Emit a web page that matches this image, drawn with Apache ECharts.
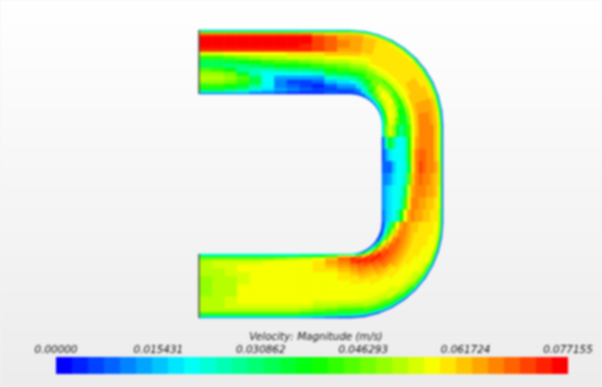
<!DOCTYPE html>
<html>
<head>
<meta charset="utf-8">
<title>Velocity magnitude</title>
<script src="https://cdn.jsdelivr.net/npm/echarts@6/dist/echarts.min.js"></script>
<style>
  html, body { margin: 0; padding: 0; background: #f4f4f4; }
  #main { width: 602px; height: 387px; filter: blur(0.8px); }
</style>
</head>
<body>
<div id="main"></div>
<script>
  // colour band (0-31 on the legend) per cell, one row per station, outer wall -> inner wall
  var topRows = [
    [6,12,19,28,31,31,31,30,22,17,13,13,18,20,21,20,17,14,10,4],
    [6,12,19,28,31,31,31,30,22,17,13,13,17,20,21,20,17,14,10,4],
    [6,12,19,28,31,31,31,30,23,18,14,12,15,19,20,19,16,13,9,4],
    [6,12,19,28,31,31,31,30,23,19,15,12,11,14,18,17,14,12,8,4],
    [6,12,19,28,31,31,31,30,23,20,16,13,10,10,13,14,11,9,6,3],
    [6,12,19,28,31,31,31,30,23,21,17,14,10,8,8,8,8,7,5,3],
    [6,12,19,28,31,31,31,30,23,21,18,15,11,8,5,4,4,5,4,2],
    [6,12,19,28,31,31,31,30,24,22,18,15,12,8,5,2,3,4,3,1],
    [6,12,20,28,31,31,30,30,24,22,19,16,12,8,5,2,2,3,2,1],
    [6,12,20,26,29,29,29,29,24,22,20,17,13,9,5,3,1,2,2,1],
    [6,12,20,25,28,28,28,28,25,23,21,18,16,13,9,6,3,2,3,2],
    [6,13,20,25,26,27,27,26,25,23,21,19,17,14,10,7,5,3,2,2]
  ];
  var arcOneRows = [
    [6,13,21,25,26,26,26,26,25,23,22,20,18,15,11,8,5,3,2,2],
    [5,13,21,24,25,25,25,25,24,23,22,20,18,16,13,10,7,4,3,2],
    [5,12,20,24,24,24,24,24,24,24,23,21,19,18,16,13,10,7,4,2],
    [4,11,19,23,24,24,24,24,24,24,23,22,19,19,19,17,14,10,6,3],
    [4,10,18,23,24,24,24,24,24,24,23,22,18,20,22,21,18,12,7,3],
    [3,10,18,22,24,24,24,24,24,24,23,22,18,20,23,23,20,13,8,3],
    [3,9,17,22,24,24,25,25,25,24,23,22,17,19,23,23,21,14,9,4],
    [3,9,17,22,24,25,25,25,25,25,23,21,16,18,22,23,22,15,10,5],
    [3,8,16,22,25,26,26,26,26,25,23,20,15,15,21,23,23,16,11,6],
    [2,8,16,23,25,26,27,27,27,25,23,19,14,15,18,22,23,17,12,7]
  ];
  var sideRows = [
    [2,9,17,23,25,27,27,27,27,25,23,17,14,11,14,20,22,19,12,7],
    [2,9,17,23,25,27,27,27,27,26,23,16,9,8,8,11,15,10,5,2],
    [2,9,17,23,25,27,27,28,28,27,24,16,9,8,8,8,7,5,3,2],
    [2,10,18,24,26,27,27,28,29,27,24,14,9,8,8,6,3,3,3,3],
    [2,10,18,24,25,26,27,27,28,27,25,18,10,8,8,7,5,4,4,4],
    [2,10,18,23,25,26,26,27,27,27,26,22,13,9,8,8,7,6,5,4],
    [2,10,18,23,24,25,25,26,26,27,27,24,17,10,8,8,7,6,5,4],
    [2,9,17,22,24,24,25,25,26,26,27,26,23,15,10,8,7,6,4,3]
  ];
  var arcTwoRows = [
    [2,9,17,22,23,24,24,24,24,25,25,26,27,26,23,17,11,7,3,2],
    [2,9,16,22,23,23,24,24,24,24,25,26,27,27,25,21,14,8,3,2],
    [2,9,15,21,23,23,23,24,24,24,25,26,27,28,27,24,18,9,3,1],
    [2,8,14,19,22,23,23,23,24,24,25,26,27,28,28,26,22,12,4,1],
    [2,8,13,18,21,22,23,23,23,24,25,26,27,28,29,28,25,15,6,2],
    [2,7,12,16,20,22,23,23,23,24,24,25,27,28,29,30,27,18,8,2],
    [2,6,11,15,19,22,22,23,23,23,24,25,26,27,28,30,29,21,11,3],
    [2,6,11,14,18,21,22,23,23,23,24,24,25,26,27,29,30,25,14,4],
    [1,5,10,14,18,21,22,23,23,23,23,24,25,26,27,28,30,28,18,6],
    [1,5,10,13,17,20,22,23,23,23,23,24,24,25,26,27,29,30,22,8]
  ];
  var bottomRows = [
    [1,5,10,13,17,20,22,23,23,23,23,23,24,24,25,26,27,28,24,10],
    [2,6,11,14,18,21,22,23,23,23,23,23,23,23,24,25,26,25,18,10],
    [3,7,11,15,19,21,22,23,23,23,23,23,23,23,24,24,24,23,15,9],
    [4,8,12,16,20,22,23,23,23,23,23,23,23,23,23,23,23,22,14,9],
    [5,9,13,17,21,22,23,23,23,23,23,23,23,23,23,23,23,21,13,8],
    [5,9,13,17,21,22,23,23,23,23,23,23,23,23,23,23,23,20,13,8],
    [5,9,13,17,21,22,23,23,23,23,23,23,23,23,23,23,23,19,13,8],
    [5,9,13,17,21,22,23,23,23,23,23,23,23,23,23,23,22,19,13,8],
    [5,9,13,17,21,22,23,23,23,23,23,22,22,22,23,23,22,19,13,8],
    [5,9,13,17,21,22,22,22,21,21,21,21,21,22,22,22,22,19,13,8],
    [5,9,13,17,21,21,21,21,21,21,21,21,21,21,21,22,22,19,13,8],
    [5,9,13,17,21,21,21,21,20,20,20,20,20,21,21,21,21,19,13,8]
  ];
  var tickLabels = ['0.00000', '0.015431', '0.030862', '0.046293', '0.061724', '0.077155'];
  var bandColors = ['#0000ff', '#00ffff', '#00ff00', '#ffff00', '#ff0000'];
  var legendName = 'Velocity: Magnitude (m/s)';

  var maxVelocity = 0.077155;
  var tickStep = 0.015431;
  var bandCount = 32;

  // cross-duct cell edges, measured from the outer wall
  var cellEdges = [0,1,2,3.5,6,10,14,18,22,26,30,34,38,42,46,50,54,58,61,63,64];

  // duct centre line: 12 stations straight, 10 bend, 8 straight, 10 bend, 12 straight
  function ductPoint(i, d) {
    var a;
    if (i <= 12) {
      return [199 + 151 * i / 12, 30 + d];
    }
    if (i <= 22) {
      a = (i - 12) / 10 * Math.PI / 2;
      return [350 + (93 - d * 61 / 64) * Math.sin(a), 125 - (95 - d) * Math.cos(a)];
    }
    if (i <= 30) {
      return [443 - d * 61 / 64, 125 + 97 * (i - 22) / 8];
    }
    if (i <= 40) {
      a = (i - 30) / 10 * Math.PI / 2;
      return [350 + (93 - d * 61 / 64) * Math.cos(a), 222 + (96 - d) * Math.sin(a)];
    }
    return [350 - 151 * (i - 40) / 12, 318 - d];
  }

  var stationRows = topRows.concat(arcOneRows, sideRows, arcTwoRows, bottomRows);
  var fieldData = [];
  for (var s = 0; s < stationRows.length; s++) {
    for (var c = 0; c < stationRows[s].length; c++) {
      fieldData.push([s, c, stationRows[s][c]]);
    }
  }

  var barData = [];
  for (var b = 0; b < bandCount; b++) {
    barData.push([b * maxVelocity / bandCount, (b + 1) * maxVelocity / bandCount, b]);
  }

  var inletData = [ductPoint(0, 0), ductPoint(0, 64), '-', ductPoint(52, 0), ductPoint(52, 64)];

  function renderCell(params, api) {
    var s = api.value(0);
    var c = api.value(1);
    var color = api.visual('color');
    var pts = [
      ductPoint(s, cellEdges[c]),
      ductPoint(s + 1, cellEdges[c]),
      ductPoint(s + 1, cellEdges[c + 1]),
      ductPoint(s, cellEdges[c + 1])
    ];
    return {
      type: 'polygon',
      shape: { points: pts.map(function(p) { return api.coord(p); }) },
      style: { fill: color, stroke: color, lineWidth: 0.6 }
    };
  }

  function renderBand(params, api) {
    var start = api.coord([api.value(0), 1]);
    var end = api.coord([api.value(1), 0]);
    return {
      type: 'rect',
      shape: { x: start[0], y: start[1], width: end[0] - start[0], height: end[1] - start[1] },
      style: { fill: api.visual('color') }
    };
  }

  var myChart = echarts.init(document.getElementById('main'));
  var option = {
    animation: false,
    backgroundColor: new echarts.graphic.LinearGradient(0, 0, 0, 1, [
      { offset: 0, color: '#ffffff' },
      { offset: 1, color: '#ececec' }
    ]),
    title: {
      text: legendName,
      left: 311,
      top: 327,
      textAlign: 'center',
      textStyle: {
        fontFamily: 'DejaVu Sans',
        fontStyle: 'oblique',
        fontWeight: 'normal',
        fontSize: 10.4,
        color: '#111'
      }
    },
    grid: [
      { left: 0, top: 0, width: 602, height: 387 },
      { left: 56, top: 357, width: 512, height: 17 }
    ],
    xAxis: [
      { type: 'value', gridIndex: 0, min: 0, max: 602, show: false },
      {
        type: 'value',
        gridIndex: 1,
        position: 'top',
        min: 0,
        max: maxVelocity,
        interval: tickStep,
        axisLine: { show: false },
        axisTick: { show: false },
        splitLine: { show: false },
        axisLabel: {
          margin: 2,
          fontFamily: 'DejaVu Sans',
          fontStyle: 'oblique',
          fontSize: 10.4,
          color: '#111',
          showMinLabel: true,
          showMaxLabel: true,
          hideOverlap: false,
          formatter: function(v) { return tickLabels[Math.round(v / tickStep)]; }
        }
      }
    ],
    yAxis: [
      { type: 'value', gridIndex: 0, min: 0, max: 387, inverse: true, show: false },
      { type: 'value', gridIndex: 1, min: 0, max: 1, show: false }
    ],
    visualMap: {
      show: false,
      type: 'continuous',
      min: 0,
      max: bandCount - 1,
      dimension: 2,
      seriesIndex: [0, 2],
      inRange: { color: bandColors }
    },
    series: [
      {
        type: 'custom',
        xAxisIndex: 0,
        yAxisIndex: 0,
        silent: true,
        renderItem: renderCell,
        data: fieldData
      },
      {
        type: 'line',
        xAxisIndex: 0,
        yAxisIndex: 0,
        silent: true,
        symbol: 'none',
        connectNulls: false,
        lineStyle: { color: '#555', width: 1.5 },
        data: inletData
      },
      {
        type: 'custom',
        xAxisIndex: 1,
        yAxisIndex: 1,
        silent: true,
        renderItem: renderBand,
        data: barData
      }
    ]
  };
  myChart.setOption(option);
</script>
</body>
</html>
